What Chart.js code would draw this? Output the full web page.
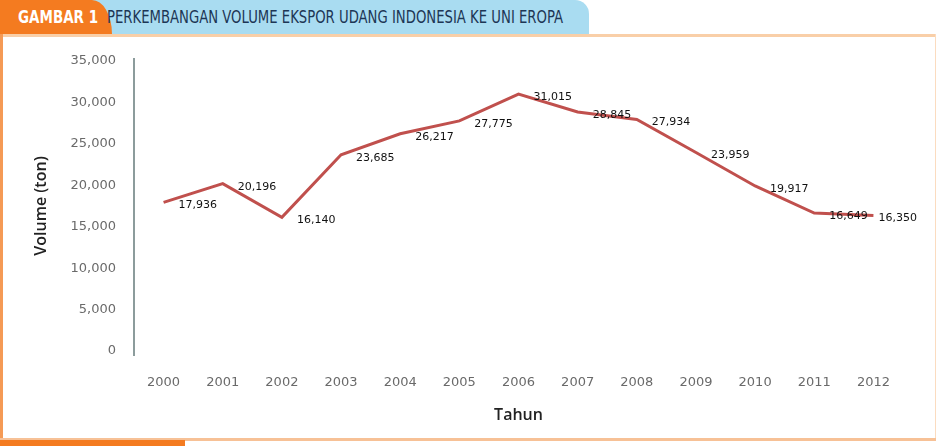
<!DOCTYPE html>
<html>
<head>
<meta charset="utf-8">
<script src="https://cdn.jsdelivr.net/npm/chart.js@4/dist/chart.umd.min.js"></script>
<style>
  html, body { margin:0; padding:0; background:#ffffff; }
  #wrap { position:relative; width:936px; height:446px; overflow:hidden; background:#fff; }
  #blue { position:absolute; left:92px; top:0; width:497px; height:34px; background:#a9dcf1; border-top-right-radius:14px; }
  #orange { position:absolute; left:0; top:0; width:112px; height:34px; background:#f47b20; border-top-right-radius:20px 34px; }
  #topline { position:absolute; left:0; top:34px; width:936px; height:3px; background:#f9cfa8; }
  #leftline { position:absolute; left:0; top:34px; width:3px; height:407px; background:#f59a55; }
  #rightline { position:absolute; right:0; top:34px; width:1px; height:407px; background:#fbdcc0; }
  #bottomline { position:absolute; left:0; top:438px; width:936px; height:3px; background:#f7c196; }
  #bottomblock { position:absolute; left:0; top:440px; width:185px; height:6px; background:#f47b20; }
  .hdr { position:absolute; white-space:nowrap; transform-origin:0 50%; line-height:20px; }
  #gtext { left:18px; top:7px; color:#fff; font-family:"Liberation Sans Narrow","DejaVu Sans Condensed","Liberation Sans",sans-serif; font-weight:bold; font-size:17px; }
  #ttext { left:107px; top:7px; color:#1d3655; font-family:"Liberation Sans Narrow","DejaVu Sans Condensed","Liberation Sans",sans-serif; font-size:17px; }
  canvas#c { position:absolute; left:0; top:0; }
</style>
</head>
<body>
<div id="wrap">
  <div id="blue"></div>
  <div id="orange"></div>
  <div id="topline"></div>
  <div id="leftline"></div>
  <div id="rightline"></div>
  <div id="bottomline"></div>
  <div id="bottomblock"></div>
  <span id="gtext" class="hdr">GAMBAR 1</span>
  <span id="ttext" class="hdr">PERKEMBANGAN VOLUME EKSPOR UDANG INDONESIA KE UNI EROPA</span>
  <canvas id="c" width="936" height="446"></canvas>
</div>
<script>
// ---- data ----
const years = ['2000','2001','2002','2003','2004','2005','2006','2007','2008','2009','2010','2011','2012'];
const volumeTon = [17936, 20196, 16140, 23685, 26217, 27775, 31015, 28845, 27934, 23959, 19917, 16649, 16350];
const yTicks = [0, 5000, 10000, 15000, 20000, 25000, 30000, 35000];
const yTitle = 'Volume (ton)';
const xTitle = 'Tahun';

// fit header texts to their widths
function fitText(id, target) {
  const el = document.getElementById(id);
  const w = el.getBoundingClientRect().width;
  el.style.transform = 'scaleX(' + (target / w) + ')';
}
fitText('gtext', 80);
fitText('ttext', 456);

const fmt = v => v.toLocaleString('en-US');

const labelPlugin = {
  id: 'pointLabels',
  afterDatasetsDraw(chart) {
    const ctx = chart.ctx;
    const meta = chart.getDatasetMeta(0);
    ctx.save();
    ctx.font = '11px "DejaVu Sans", sans-serif';
    ctx.fillStyle = '#111';
    ctx.textAlign = 'left';
    ctx.textBaseline = 'middle';
    meta.data.forEach((pt, i) => {
      const last = i === meta.data.length - 1;
      ctx.fillText(fmt(chart.data.datasets[0].data[i]), pt.x + (last ? 5 : 15), pt.y + 3);
    });
    ctx.restore();
  }
};

// vertical axis line slightly extending past the plot area, as in the original
const axisLinePlugin = {
  id: 'axisLine',
  afterDraw(chart) {
    const {ctx, chartArea} = chart;
    ctx.save();
    ctx.strokeStyle = '#8c9c9c';
    ctx.lineWidth = 2;
    ctx.beginPath();
    ctx.moveTo(chartArea.left, chartArea.top - 3);
    ctx.lineTo(chartArea.left, chartArea.bottom + 5);
    ctx.stroke();
    ctx.restore();
  }
};

new Chart(document.getElementById('c'), {
  type: 'line',
  data: {
    labels: years,
    datasets: [{
      data: volumeTon,
      borderColor: '#c0504d',
      borderWidth: 3,
      pointRadius: 0,
      tension: 0,
      fill: false
    }]
  },
  options: {
    responsive: false,
    animation: false,
    layout: { padding: { left: 28, right: 33, top: 61, bottom: 18 } },
    plugins: { legend: { display: false }, tooltip: { enabled: false } },
    scales: {
      x: {
        offset: true,
        grid: { display: false, drawTicks: false, tickLength: 0 },
        border: { display: false },
        ticks: { color: '#6a6a6a', font: { family: 'DejaVu Sans', size: 13 }, padding: 24, maxRotation: 0, autoSkip: false },
        title: { display: true, text: xTitle, color: '#222', font: { family: 'Open Sans', size: 16, weight: '600' }, padding: { top: 0, bottom: 3 } },
        afterFit(s) { s.height = 77; }
      },
      y: {
        min: 0, max: 35000,
        afterBuildTicks(s) { s.ticks = yTicks.map(v => ({ value: v })); },
        grid: { display: false, drawTicks: false, tickLength: 0 },
        border: { display: false },
        ticks: { color: '#6a6a6a', font: { family: 'DejaVu Sans', size: 13 }, padding: 18, callback: v => fmt(v) },
        title: { display: true, text: yTitle, color: '#222', font: { family: 'Open Sans', size: 16, weight: '600' }, padding: { top: 4, bottom: 0 } },
        afterFit(s) { s.width = 106; }
      }
    }
  },
  plugins: [labelPlugin, axisLinePlugin]
});
</script>
</body>
</html>
